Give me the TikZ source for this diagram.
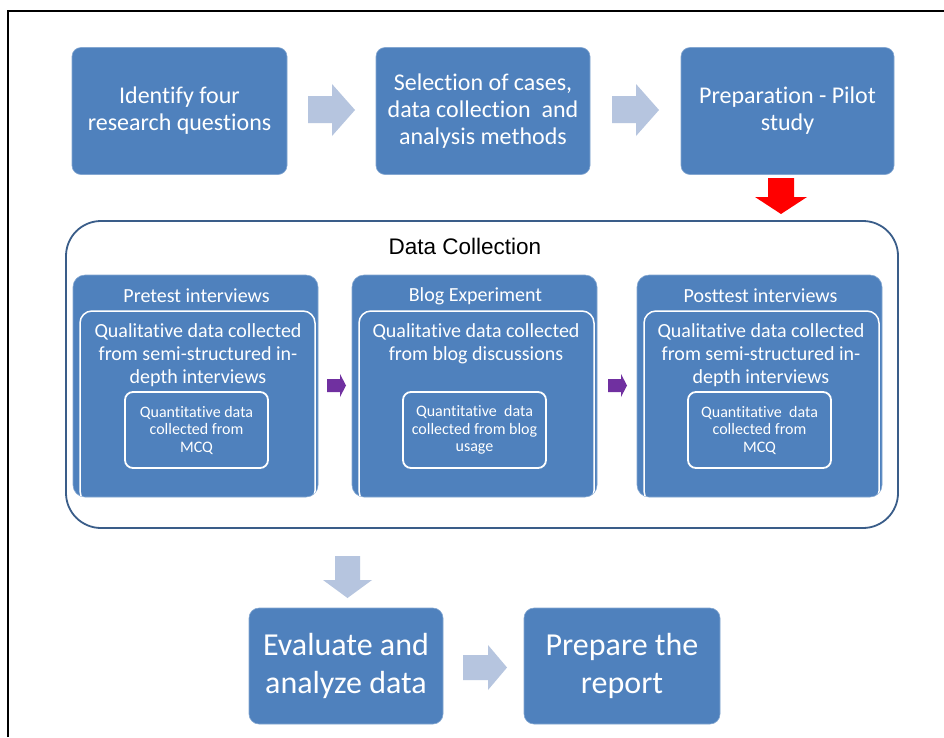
\documentclass[tikz,border=0pt]{standalone}
\usepackage{fontspec}
\setmainfont[Ligatures=NoCommon]{Carlito}
\newfontfamily\arialfont{Liberation Sans}
\definecolor{boxblue}{HTML}{4F81BD}
\definecolor{greyarrow}{HTML}{B6C5DF}
\definecolor{contline}{HTML}{3A5D89}
\definecolor{purplearrow}{HTML}{7030A0}
\definecolor{redarrow}{HTML}{FF0000}
\begin{document}
\begin{tikzpicture}[x=1pt,y=-1pt,
  topbox/.style={fill=boxblue, draw=boxblue!70!white, line width=0.6pt, rounded corners=9pt, text=white, align=center, inner sep=0pt,
    font=\fontsize{24}{27}\selectfont},
  botbox/.style={fill=boxblue, draw=boxblue!70!white, line width=0.6pt, rounded corners=10pt, text=white, align=center, inner sep=0pt,
    font=\fontsize{32}{37.5}\selectfont},
  stagebox/.style={fill=boxblue, draw=boxblue!70!white, line width=0.6pt, rounded corners=12pt, inner sep=0pt},
  stagetitle/.style={text=white, font=\fontsize{20}{22}\selectfont, inner sep=0pt},
  qualtext/.style={text=white, align=center, font=\fontsize{20}{22.8}\selectfont, inner sep=0pt},
  quantbox/.style={draw=white, line width=1.8pt, rounded corners=8pt, fill=boxblue, text=white, align=center, inner sep=0pt,
    minimum width=143pt, minimum height=76pt, font=\fontsize{16}{17.5}\selectfont},
  blockarrow/.style={fill=greyarrow, draw=none},
]
\useasboundingbox (0,0) rectangle (944,737);
\fill[white] (0,0) rectangle (944,737);
% outer frame
\draw[line width=1.8pt, black] (8,737) -- (8,11) -- (944,11);

% top row
\node[topbox, minimum width=215pt, minimum height=127pt] (b1) at (179.5,111) {Identify four\\research questions};
\node[topbox, minimum width=214pt, minimum height=127pt] (b2) at (483,111) {Selection of cases,\\data collection\ \ and\\analysis methods};
\node[topbox, minimum width=213pt, minimum height=127pt] (b3) at (787.5,111) {Preparation - Pilot\\study};

% grey block arrows (top)
\fill[blockarrow] (308,96) -- (332,96) -- (332,84) -- (355,110) -- (332,136) -- (332,123) -- (308,123) -- cycle;
\fill[blockarrow] (612,96) -- (636,96) -- (636,84) -- (659,110) -- (636,136) -- (636,123) -- (612,123) -- cycle;

% red arrow
\fill[redarrow] (768,178) -- (794,178) -- (794,197) -- (807,197) -- (781,214) -- (755,197) -- (768,197) -- cycle;

% data collection container
\draw[contline, line width=1.8pt, rounded corners=35pt] (66,221) rectangle (898,528);
\node[font=\arialfont\fontsize{22.5}{25}\selectfont, inner sep=0pt] (dctitle) at (465,246) {Data Collection};

% stage boxes
\foreach \nm/\xl/\xr/\ttl in {pre/73/318/Pretest interviews, blog/352/597/Blog Experiment, post/637/882/Posttest interviews}{
  \begin{scope}
    \path[stagebox] (\xl,275) rectangle (\xr,497);
    \clip[rounded corners=12pt] (\xl,275) rectangle (\xr,497);
    \draw[white, line width=1.5pt, rounded corners=12pt] (\xl+7,311) rectangle (\xr-3,503);
  \end{scope}
  \node[stagetitle] (\nm title) at ({(\xl+\xr)/2+1},296) {\ttl};
}

\node[qualtext, anchor=north] (prequal) at (198,323.5) {Qualitative data collected\\from semi-structured in-\\depth interviews};
\node[qualtext, anchor=north] (blogqual) at (476,323.5) {Qualitative data collected\\from blog discussions};
\node[qualtext, anchor=north] (postqual) at (761,323.5) {Qualitative data collected\\from semi-structured in-\\depth interviews};

\node[quantbox] (prequant) at (196.5,430) {Quantitative data\\collected from\\MCQ};
\node[quantbox] (blogquant) at (474.5,430) {Quantitative\ \ data\\collected from blog\\usage};
\node[quantbox] (postquant) at (759.5,430) {Quantitative\ \ data\\collected from\\MCQ};

% purple arrows
\fill[purplearrow] (327,379) -- (340,379) -- (340,374) -- (346,385.5) -- (340,397) -- (340,392) -- (327,392) -- cycle;
\fill[purplearrow] (608,379) -- (621,379) -- (621,374) -- (627,385.5) -- (621,397) -- (621,392) -- (608,392) -- cycle;

% bottom
\fill[blockarrow] (335,556) -- (360,556) -- (360,580) -- (372,580) -- (347.5,598) -- (323,580) -- (335,580) -- cycle;
\node[botbox, minimum width=194pt, minimum height=116pt] (eval) at (346,666) {Evaluate and\\analyze data};
\node[botbox, minimum width=196pt, minimum height=116pt] (report) at (622,666) {Prepare the\\report};
\fill[blockarrow] (463,655) -- (488,655) -- (488,645) -- (507,667.5) -- (488,690) -- (488,680) -- (463,680) -- cycle;
\end{tikzpicture}
\end{document}
